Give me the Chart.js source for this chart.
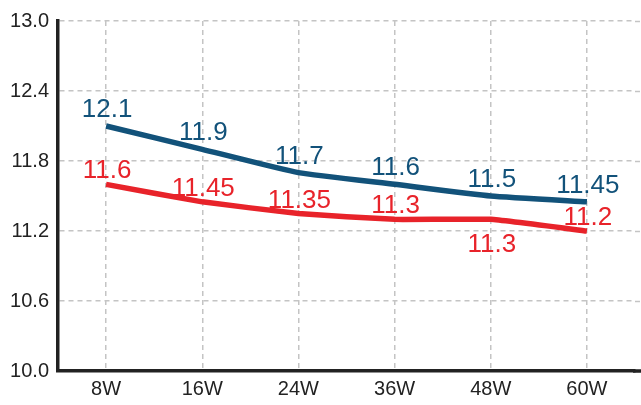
<!DOCTYPE html>
<html>
<head>
<meta charset="utf-8">
<script src="https://cdn.jsdelivr.net/npm/chart.js@4"></script>
<style>
  html, body { margin: 0; padding: 0; background: #fff; }
  canvas { display: block; }
</style>
</head>
<body>
<canvas id="grafica" width="641" height="405"></canvas>
<script>
// datos
const semanas = ["8W", "16W", "24W", "36W", "48W", "60W"];
const serieAzul = [12.1, 11.9, 11.7, 11.6, 11.5, 11.45];
const serieRoja = [11.6, 11.45, 11.35, 11.3, 11.3, 11.2];
const ticksY = [10.0, 10.6, 11.2, 11.8, 12.4, 13.0];

const AZUL = "#12527a";
const ROJO = "#e8232a";
const GRIS = "#c4c4c4";
const FUENTE = '"Liberation Sans", Arial, sans-serif';

// etiquetas de valor sobre cada punto
const etiquetas = {
  id: "etiquetas",
  afterDatasetsDraw(chart) {
    const ctx = chart.ctx;
    ctx.save();
    ctx.font = "26px " + FUENTE;
    ctx.textAlign = "center";
    ctx.textBaseline = "alphabetic";
    chart.data.datasets.forEach((ds, i) => {
      const meta = chart.getDatasetMeta(i);
      ctx.fillStyle = ds.borderColor;
      meta.data.forEach((pt, j) => {
        const abajo = (ds.debajo || []).includes(j);
        const dy = abajo ? 33 : -ds.arriba;
        ctx.fillText(String(ds.data[j]), pt.x + 1, pt.y + dy);
      });
    });
    ctx.restore();
  }
};

// el eje x y la rejilla horizontal llegan hasta el borde derecho
const bordeDerecho = {
  id: "bordeDerecho",
  beforeDatasetsDraw(chart) {
    const ctx = chart.ctx;
    const area = chart.chartArea;
    const y = chart.scales.y;
    ctx.save();
    ctx.strokeStyle = GRIS;
    ctx.lineWidth = 1.5;
    ctx.setLineDash([5, 4]);
    y.ticks.forEach((t) => {
      const py = Math.round(y.getPixelForValue(t.value)) + 0.5;
      ctx.beginPath();
      ctx.moveTo(area.right, py);
      ctx.lineTo(chart.width, py);
      ctx.stroke();
    });
    ctx.setLineDash([]);
    ctx.strokeStyle = "#222";
    ctx.lineWidth = 3.5;
    ctx.beginPath();
    ctx.moveTo(area.right - 2, area.bottom);
    ctx.lineTo(chart.width, area.bottom);
    ctx.stroke();
    ctx.restore();
  }
};

new Chart(document.getElementById("grafica").getContext("2d"), {
  type: "line",
  data: {
    labels: semanas,
    datasets: [
      {
        data: serieAzul,
        borderColor: AZUL,
        borderWidth: 5.5,
        pointRadius: 0,
        tension: 0.15,
        fill: false,
        arriba: 9,
      },
      {
        data: serieRoja,
        borderColor: ROJO,
        borderWidth: 5.5,
        pointRadius: 0,
        tension: 0.1,
        fill: false,
        arriba: 6,
        debajo: [4],
      },
    ],
  },
  options: {
    responsive: false,
    animation: false,
    layout: { padding: { top: 12, right: 6, bottom: 0, left: 0 } },
    plugins: { legend: { display: false }, tooltip: { enabled: false } },
    scales: {
      x: {
        offset: true,
        grid: { color: GRIS, lineWidth: 1.5, drawTicks: false, offset: false },
        border: { color: "#222", width: 3.5, dash: [5, 4] },
        ticks: {
          color: "#222",
          padding: 6,
          maxRotation: 0,
          autoSkip: false,
          font: { family: FUENTE, size: 20 },
        },
        afterFit: (s) => { s.height = 34; },
      },
      y: {
        min: 10.0,
        max: 13.0,
        afterBuildTicks: (s) => { s.ticks = ticksY.map((v) => ({ value: v })); },
        grid: { color: GRIS, lineWidth: 1.5, drawTicks: false },
        border: { color: "#222", width: 3.5, dash: [5, 4] },
        ticks: {
          color: "#222",
          padding: 9,
          callback: (v) => Number(v).toFixed(1),
          font: { family: FUENTE, size: 20 },
        },
        afterFit: (s) => { s.width = 58; },
      },
    },
  },
  plugins: [bordeDerecho, etiquetas],
});
</script>
</body>
</html>
